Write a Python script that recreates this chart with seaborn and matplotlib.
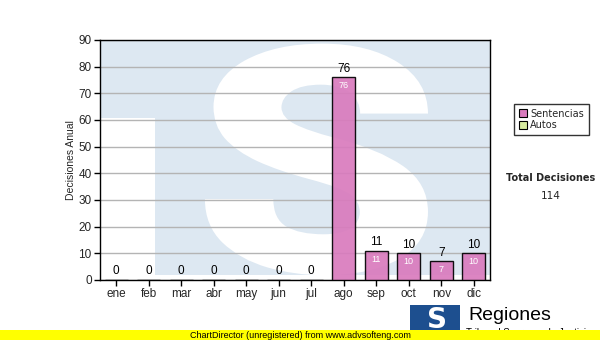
import matplotlib
matplotlib.use("Agg")
import matplotlib.pyplot as plt
import seaborn as sns
import pandas as pd
from matplotlib.patches import Rectangle, PathPatch, Patch
from matplotlib.textpath import TextPath
from matplotlib.font_manager import FontProperties
from matplotlib.transforms import Affine2D

months = ["ene", "feb", "mar", "abr", "may", "jun", "jul", "ago", "sep", "oct", "nov", "dic"]
sentencias = [0, 0, 0, 0, 0, 0, 0, 76, 11, 10, 7, 10]
autos = [0, 0, 0, 0, 0, 0, 0, 0, 0, 0, 0, 0]
yticks = [0, 10, 20, 30, 40, 50, 60, 70, 80, 90]
legend_labels = ["Sentencias", "Autos"]
total_label = "Total Decisiones"
total_value = sum(sentencias) + sum(autos)

sns.set_theme(style="white")
plt.rcParams['font.family'] = ['Liberation Sans', 'DejaVu Sans']

PINK = '#d97bbd'
GREEN = '#d8eca0'

fig = plt.figure(figsize=(6, 3.4), dpi=100)
fig.patch.set_facecolor('white')
ax = fig.add_axes([100/600, 1-280/340, 390/600, 240/340])
ax.set_facecolor('white')

# watermark background
ax.add_patch(Rectangle((0, 0.02), 1, 0.98, transform=ax.transAxes,
                       facecolor='#dde8f2', edgecolor='none', zorder=0.1))
ax.add_patch(Rectangle((0, 0), 0.141, 0.675, transform=ax.transAxes,
                       facecolor='white', edgecolor='none', zorder=0.2))
tp = TextPath((0, 0), 'S', size=1, prop=FontProperties(family='Roboto', weight=900))
ext = tp.get_extents()
x0, x1, y0, y1 = 0.269, 0.841, 0.02, 0.985
tr = Affine2D().translate(-ext.x0, -ext.y0).scale((x1-x0)/ext.width, (y1-y0)/ext.height).translate(x0, y0)
ax.add_patch(PathPatch(tr.transform_path(tp), transform=ax.transAxes,
                       facecolor='white', edgecolor='none', zorder=0.2))

df = pd.DataFrame({"mes": months, "Sentencias": sentencias})
sns.barplot(data=df, x="mes", y="Sentencias", color=PINK, saturation=1, width=0.7,
            edgecolor='black', linewidth=1, ax=ax, zorder=3)
for p in ax.patches:
    if p.get_zorder() == 3:
        p.set_alpha(0.92)
        p.set_edgecolor('black')

ax.set_ylim(0, 90)
ax.set_xlim(-0.5, 11.5)
ax.set_yticks(yticks)
ax.yaxis.grid(True, color='#b4b4b4', linewidth=1)
ax.set_axisbelow(True)
for s in ax.spines.values():
    s.set_visible(True)
    s.set_color('black')
    s.set_linewidth(1)
ax.tick_params(axis='both', which='both', direction='out', length=4, width=1,
               color='black', labelsize=8.5, pad=2, bottom=True, left=True)
ax.set_xlabel("")
ax.set_ylabel("Decisiones Anual", fontsize=7.5, labelpad=2)

for i, v in enumerate(sentencias):
    ax.text(i, v + 1.0, str(v), ha='center', va='bottom', fontsize=8.5, color='black', zorder=5)
    if v > 0:
        ax.text(i, v - 1.5, str(v), ha='center', va='top', fontsize=6.5, color='white', zorder=5)

handles = [Patch(facecolor=PINK, edgecolor='black', linewidth=0.8),
           Patch(facecolor=GREEN, edgecolor='black', linewidth=0.8)]
leg = fig.legend(handles, legend_labels, loc='upper left', bbox_to_anchor=(509/600, 1-99/340),
                 frameon=True, fancybox=False, handlelength=0.9, handleheight=0.9,
                 handletextpad=0.3, labelspacing=0.15, borderpad=0.5,
                 prop={'family': 'DejaVu Sans', 'size': 7})
leg.get_frame().set_edgecolor('black')
leg.get_frame().set_linewidth(1)

fig.text(551/600, 1-178/340, total_label, ha='center', va='center', fontsize=7,
         fontweight='bold', family='DejaVu Sans')
fig.text(551/600, 1-196/340, str(total_value), ha='center', va='center', fontsize=7.5,
         family='DejaVu Sans')

# logo
fig.patches.append(Rectangle((410/600, 5/340), 50/600, 30/340, transform=fig.transFigure,
                             facecolor='#1d4f8f', edgecolor='none', zorder=5))
fig.text(437/600, 20/340, 'S', ha='center', va='center', fontsize=20, fontweight='bold',
         color='white', family='DejaVu Sans', zorder=6)
fig.text(468/600, 1-316/340, 'Regiones', ha='left', va='center', fontsize=14, color='black', zorder=6)
fig.text(466/600, 1-333/340, 'Tribunal Supremo de Justicia', ha='left', va='center', fontsize=7,
         color='black', zorder=6)

# footer band
fig.patches.append(Rectangle((0, 0), 1, 10/340, transform=fig.transFigure,
                             facecolor='#ffff00', edgecolor='none', zorder=10))
fig.text(300/600, 5/340, 'ChartDirector (unregistered) from www.advsofteng.com', ha='center',
         va='center', fontsize=6.5, color='black', zorder=11)

fig.savefig('out.png', dpi=100)
